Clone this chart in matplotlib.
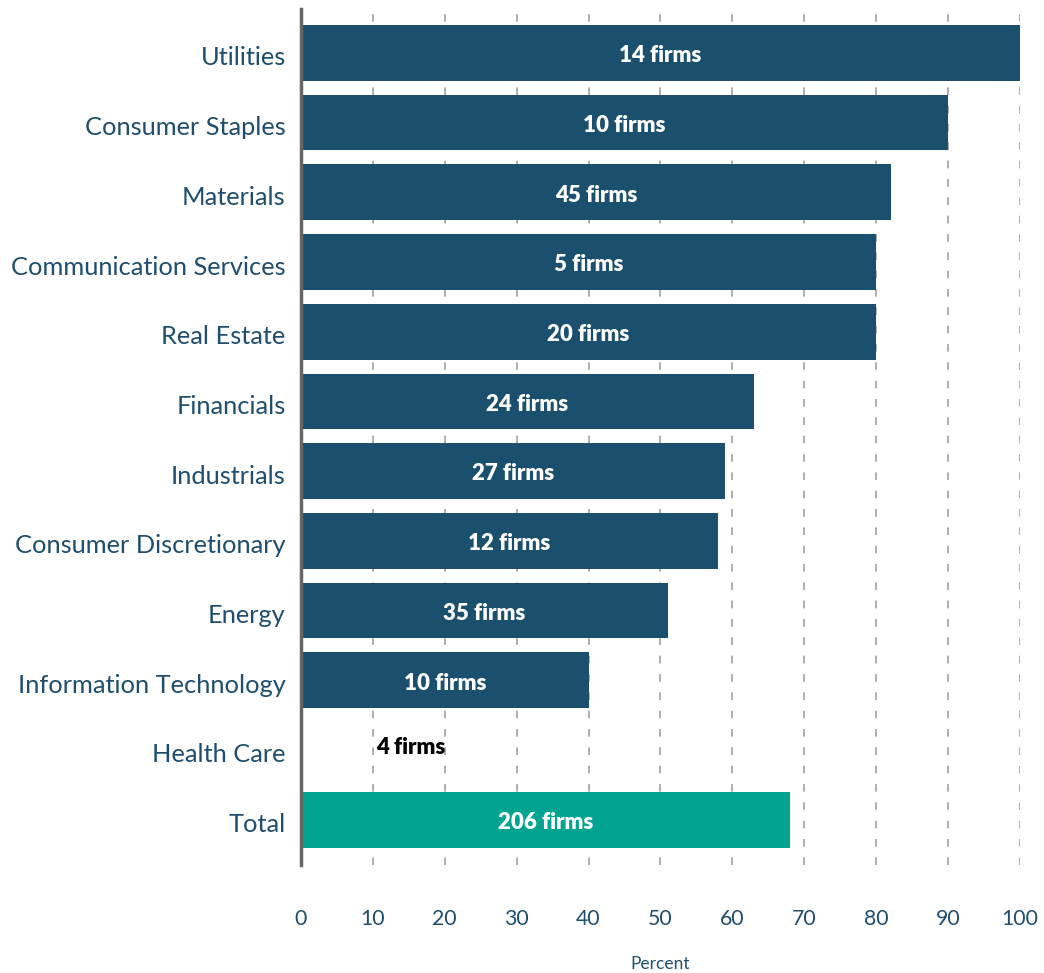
import matplotlib
matplotlib.use("Agg")
import matplotlib.pyplot as plt
from matplotlib.transforms import ScaledTranslation

categories = [
    "Utilities",
    "Consumer Staples",
    "Materials",
    "Communication Services",
    "Real Estate",
    "Financials",
    "Industrials",
    "Consumer Discretionary",
    "Energy",
    "Information Technology",
    "Health Care",
    "Total",
]
percent = [100, 90, 82, 80, 80, 63, 59, 58, 51, 40, 0, 68]
firms = [14, 10, 45, 5, 20, 24, 27, 12, 35, 10, 4, 206]
x_ticks = [0, 10, 20, 30, 40, 50, 60, 70, 80, 90, 100]

DARK = "#1a4f6d"
TEAL = "#00a490"
TEXT = "#1f4e6e"

plt.rcParams["font.family"] = ["Lato", "DejaVu Sans"]

fig = plt.figure(figsize=(10.44, 9.73), dpi=100)
ax = fig.add_axes([0.2883, 0.111, 0.6887, 0.8798])

y = list(range(len(categories)))
colors = [TEAL if c == "Total" else DARK for c in categories]
ax.barh(y, percent, height=0.8, color=colors, zorder=3)

for yi, val, n in zip(y, percent, firms):
    if val > 0:
        ax.text(val / 2, yi + 0.04, f"{n} firms", ha="center", va="center",
                color="white", fontsize=16, fontweight="heavy", zorder=4)
    else:
        ax.text(15.2, yi - 0.03, f"{n} firms", ha="center", va="center",
                color="black", fontsize=16, fontweight="heavy", zorder=4)

ax.set_xlim(0, 100)
ax.set_ylim(len(categories) - 0.35, -0.63)
ax.set_yticks(y)
ax.set_yticklabels(categories, fontsize=18.3, color=TEXT)
ax.set_xticks(x_ticks)
ax.set_xticklabels([str(t) for t in x_ticks], fontsize=15.3, color=TEXT)
ax.tick_params(axis="x", length=0, pad=32)
ax.tick_params(axis="y", length=0, pad=11)
ax.set_xlabel("Percent", fontsize=12.5, color=TEXT, labelpad=19)

# nudge category labels down a little, as in the original
shift = ScaledTranslation(0, -3 / 100, fig.dpi_scale_trans)
for lbl in ax.get_yticklabels():
    lbl.set_transform(lbl.get_transform() + shift)

ax.xaxis.grid(True, color="#999999", linestyle=(0, (5, 7)), linewidth=1.1, zorder=0)
ax.set_axisbelow(True)
for side in ["top", "right", "bottom"]:
    ax.spines[side].set_visible(False)
ax.spines["left"].set_color("#666666")
ax.spines["left"].set_linewidth(2.5)
ax.spines["left"].set_zorder(5)

fig.savefig("out.png", dpi=100)
